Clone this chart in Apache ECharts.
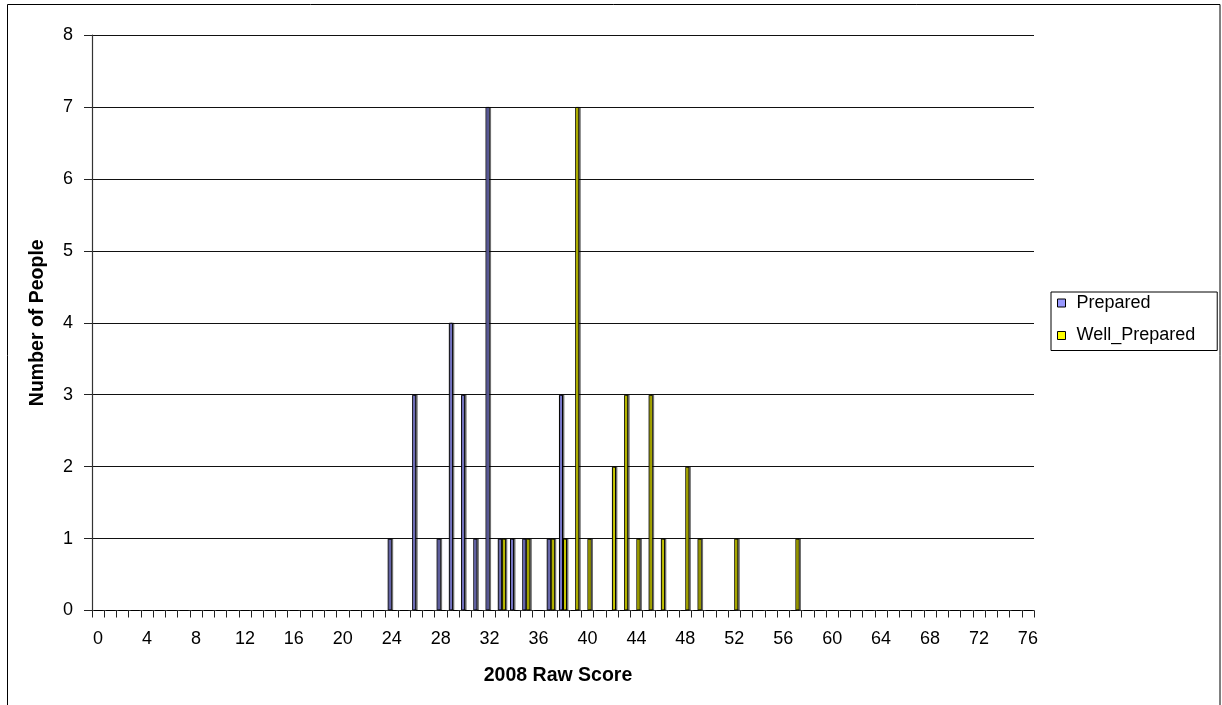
<!DOCTYPE html>
<html>
<head>
<meta charset="utf-8">
<title>2008 Raw Score distribution</title>
<script src="https://cdn.jsdelivr.net/npm/echarts@6/dist/echarts.min.js"></script>
<style>
  html, body { margin: 0; padding: 0; background: #fff; }
  #chart { width: 1222px; height: 705px; }
</style>
</head>
<body>
<div id="chart"></div>
<script>
// Raw scores 0..76 (one category per score)
const scores = [
  '0','1','2','3','4','5','6','7','8','9',
  '10','11','12','13','14','15','16','17','18','19',
  '20','21','22','23','24','25','26','27','28','29',
  '30','31','32','33','34','35','36','37','38','39',
  '40','41','42','43','44','45','46','47','48','49',
  '50','51','52','53','54','55','56','57','58','59',
  '60','61','62','63','64','65','66','67','68','69',
  '70','71','72','73','74','75','76'
];

// Number of people per score
const prepared = [
  0,0,0,0,0,0,0,0,0,0,
  0,0,0,0,0,0,0,0,0,0,
  0,0,0,0,1,0,3,0,1,4,
  3,1,7,1,1,1,0,1,3,0,
  0,0,0,0,0,0,0,0,0,0,
  0,0,0,0,0,0,0,0,0,0,
  0,0,0,0,0,0,0,0,0,0,
  0,0,0,0,0,0,0
];
const wellPrepared = [
  0,0,0,0,0,0,0,0,0,0,
  0,0,0,0,0,0,0,0,0,0,
  0,0,0,0,0,0,0,0,0,0,
  0,0,0,1,0,1,0,1,1,7,
  1,0,2,3,1,3,1,0,2,1,
  0,0,1,0,0,0,0,1,0,0,
  0,0,0,0,0,0,0,0,0,0,
  0,0,0,0,0,0,0
];

const yTicks = ['0','1','2','3','4','5','6','7','8'];

const FONT = '"Liberation Sans", Arial, sans-serif';

const chart = echarts.init(document.getElementById('chart'), null, { renderer: 'canvas' });

const barShadow = {
  borderColor: '#000',
  borderWidth: 1,
  shadowColor: 'rgba(0,0,0,0.45)',
  shadowBlur: 0,
  shadowOffsetX: 1.5,
  shadowOffsetY: 0
};

chart.setOption({
  animation: false,
  backgroundColor: '#fff',
  textStyle: { fontFamily: FONT },
  graphic: [{
    type: 'rect',
    shape: { x: 7.5, y: 4.5, width: 1212.5, height: 710 },
    style: { fill: 'none', stroke: '#000', lineWidth: 1 },
    silent: true,
    z: 0
  }],
  grid: { left: 92, right: 188, top: 35, bottom: 94.5, containLabel: false },
  legend: {
    orient: 'vertical',
    left: 1051,
    top: 292,
    padding: [1, 22, 5, 6],
    itemGap: 12.5,
    itemWidth: 8,
    itemHeight: 8,
    icon: 'rect',
    borderColor: '#000',
    borderWidth: 1,
    backgroundColor: '#fff',
    textStyle: { fontSize: 18, color: '#000', fontFamily: FONT, lineHeight: 20, padding: [0, 0, 0, 6] },
    itemStyle: { borderColor: '#000', borderWidth: 1, shadowBlur: 0, shadowOffsetX: 0, shadowColor: 'transparent' },
    data: ['Prepared', 'Well_Prepared']
  },
  xAxis: {
    type: 'category',
    data: scores,
    name: '2008 Raw Score',
    nameLocation: 'middle',
    nameGap: 55,
    nameTextStyle: { fontSize: 19.5, fontWeight: 'bold', color: '#000', fontFamily: FONT, padding: [0, 10, 0, 0] },
    axisLine: { lineStyle: { color: '#333', width: 1.2 } },
    axisTick: { show: true, interval: 0, alignWithLabel: false, length: 7, lineStyle: { color: '#222' } },
    axisLabel: { interval: 3, fontSize: 18, color: '#000', margin: 20, fontFamily: FONT },
    splitLine: { show: false }
  },
  yAxis: {
    type: 'value',
    min: 0,
    max: 8,
    interval: 1,
    name: 'Number of People',
    nameLocation: 'middle',
    nameGap: 44,
    nameTextStyle: { fontSize: 19.5, fontWeight: 'bold', color: '#000', fontFamily: FONT },
    axisLine: { show: true, lineStyle: { color: '#333', width: 1.2 } },
    axisTick: { show: true, length: 8, lineStyle: { color: '#222' } },
    axisLabel: {
      fontSize: 18, color: '#000', margin: 19, fontFamily: FONT,
      formatter: v => yTicks[v]
    },
    splitLine: { show: true, lineStyle: { color: '#111', width: 1 } }
  },
  series: [
    {
      name: 'Prepared',
      type: 'bar',
      data: prepared,
      barGap: '0%',
      barCategoryGap: '34%',
      itemStyle: Object.assign({ color: '#9999FF' }, barShadow)
    },
    {
      name: 'Well_Prepared',
      type: 'bar',
      data: wellPrepared,
      barGap: '0%',
      barCategoryGap: '34%',
      itemStyle: Object.assign({ color: '#FFFF00' }, barShadow)
    }
  ]
});
</script>
</body>
</html>
